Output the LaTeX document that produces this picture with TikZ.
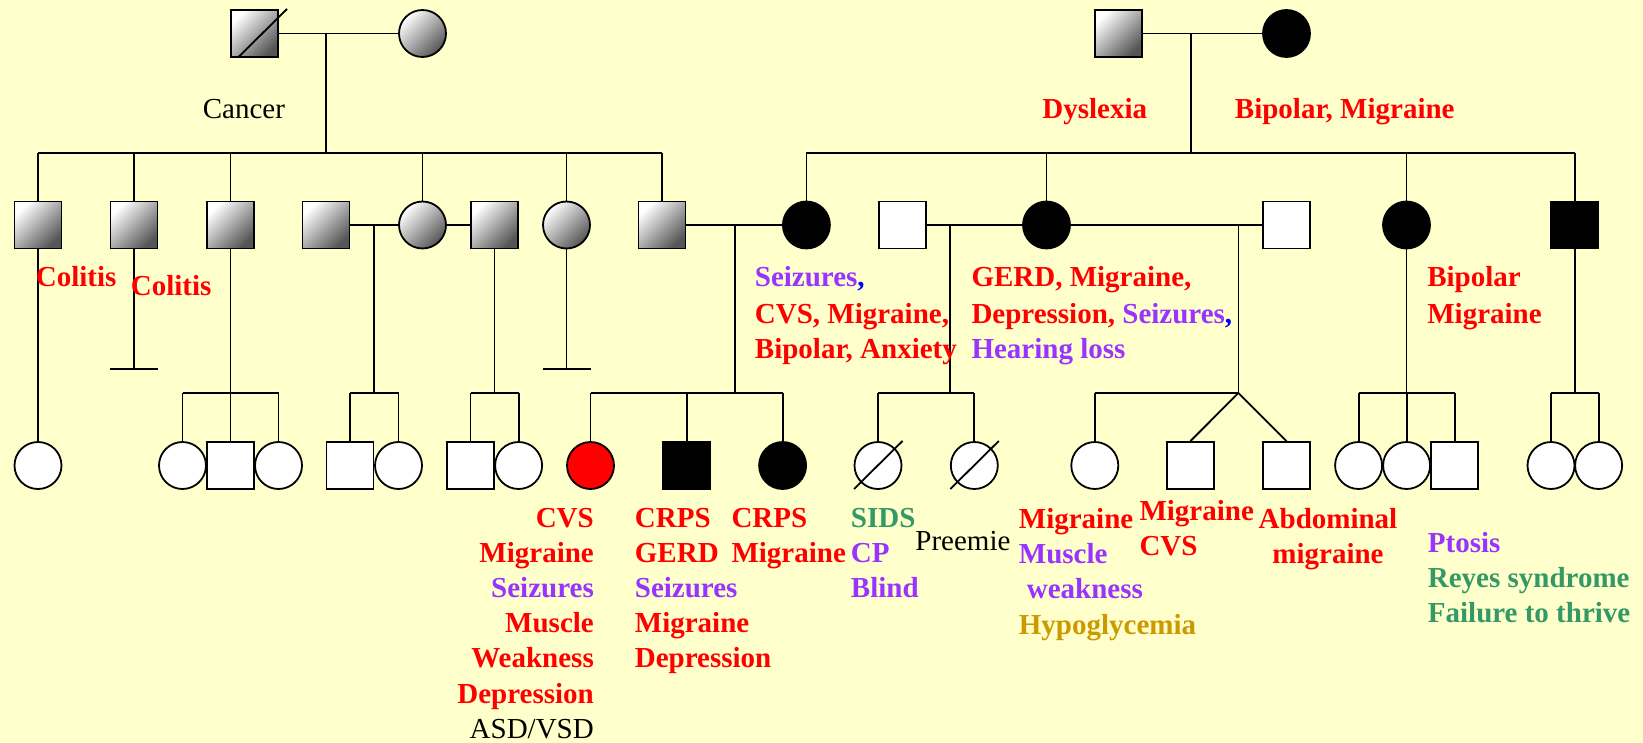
\documentclass[tikz,border=0pt]{standalone}
\usepackage{fontspec}
\setmainfont{Liberation Serif}
\usetikzlibrary{calc}
\definecolor{bg}{HTML}{FFFFCC}
\definecolor{dred}{HTML}{FF0000}
\definecolor{dpur}{HTML}{9933FF}
\definecolor{dblu}{HTML}{0000FF}
\definecolor{dgrn}{HTML}{339966}
\definecolor{dgld}{HTML}{CC9900}
\definecolor{shd}{HTML}{555555}
\begin{document}
\begin{tikzpicture}[x=1pt,y=-1pt,line width=1.8pt,
  person/.style={draw=black,line width=1.8pt,inner sep=0pt,minimum size=47pt},
  male/.style={person,rectangle},
  female/.style={person,circle},
  gshade/.style={top color=white,bottom color=shd,shading angle=45},
  affected/.style={fill=black},
  unaff/.style={fill=white},
  redfill/.style={fill=dred},
  lbl/.style={inner sep=0pt,font=\fontsize{29}{35}\selectfont\bfseries},
  plainlbl/.style={inner sep=0pt,font=\fontsize{29}{35}\selectfont},
]
\fill[bg] (0,0) rectangle (1643,743);
\useasboundingbox (0,0) rectangle (1643,743);

% ---------- generation I ----------
\node[male,gshade] (gf1) at (254.5,33.5) {};
\node[female,gshade] (gm1) at (422.5,33.5) {};
\node[male,gshade] (gf2) at (1118.5,33.5) {};
\node[female,affected] (gm2) at (1286.5,33.5) {};
\draw ($(gf1.center)+(-16.5,24)$) -- ($(gf1.center)+(32.5,-24.5)$);

\draw (gf1.east) -- (gm1.west);
\draw (gf2.east) -- (gm2.west);
\coordinate (m1) at (326.3,33.5);
\coordinate (s1) at (326.3,153);
\coordinate (m2) at (1190.7,33.5);
\coordinate (s2) at (1190.7,153);
\draw (m1) -- (s1);
\draw (m2) -- (s2);

% ---------- generation II ----------
\node[male,gshade] (a1) at (38,225) {};
\node[male,gshade] (a2) at (134,225) {};
\node[male,gshade] (a3) at (230.5,225) {};
\node[male,gshade] (a4s) at (326,225) {};
\node[female,gshade] (a5) at (422.5,225) {};
\node[male,gshade] (a6s) at (494.5,225) {};
\node[female,gshade] (a7) at (566.5,225) {};
\node[male,gshade] (a8) at (662,225) {};
\node[female,affected] (b1) at (806.4,225) {};
\node[male,unaff] (b2s) at (902.6,225) {};
\node[female,affected] (b3) at (1046.5,225) {};
\node[male,unaff] (b4s) at (1286.5,225) {};
\node[female,affected] (b5) at (1406.5,225) {};
\node[male,affected] (b6) at (1574.6,225) {};

% sibship lines gen II
\draw (a1.north |- s1) -- (a8.north |- s1);
\foreach \n in {a1,a2,a3,a5,a7,a8} \draw (\n.north |- s1) -- (\n.north);
\draw (b1.north |- s2) -- (b6.north |- s2);
\foreach \n in {b1,b3,b5,b6} \draw (\n.north |- s2) -- (\n.north);

% marriages gen II
\draw (a4s.east) -- (a5.west);
\draw (a5.east) -- (a6s.west);
\draw (a8.east) -- (b1.west);
\draw (b2s.east) -- (b3.west);
\draw (b3.east) -- (b4s.west);

% ---------- generation III ----------
\node[female,unaff] (c1) at (38,465.5) {};
\node[female,unaff] (c2) at (182.5,465.5) {};
\node[female,unaff] (c4) at (278.5,465.5) {};
\node[male,unaff] (c3) at (230.5,465.5) {};
\node[female,unaff] (c6) at (398.5,465.5) {};
\node[male,unaff] (c5) at (350,465.5) {};
\node[female,unaff] (c8) at (518.6,465.5) {};
\node[male,unaff] (c7) at (470.5,465.5) {};
\node[female,redfill] (c9) at (590.5,465.5) {};
\node[male,affected] (c10) at (686.6,465.5) {};
\node[female,affected] (c11) at (782.6,465.5) {};
\node[female,unaff] (c12) at (878,465.5) {};
\node[female,unaff] (c13) at (974.3,465.5) {};
\node[female,unaff] (c14) at (1094.8,465.5) {};
\node[male,unaff] (c15) at (1190.4,465.5) {};
\node[male,unaff] (c16) at (1286.4,465.5) {};
\node[female,unaff] (c17) at (1358.6,465.5) {};
\node[female,unaff] (c18) at (1406.6,465.5) {};
\node[male,unaff] (c19) at (1454.7,465.5) {};
\node[female,unaff] (c20) at (1551,465.5) {};
\node[female,unaff] (c21) at (1598.6,465.5) {};
\draw ($(c12.center)+(-24,23.5)$) -- ($(c12.center)+(24.5,-24.5)$);
\draw ($(c13.center)+(-24,23.5)$) -- ($(c13.center)+(24.5,-24.5)$);

% junctions
\coordinate (j2) at (374,225);
\coordinate (j4) at (735,225);
\coordinate (j5) at (950,225);
\coordinate (j6) at (1238.4,225);
\coordinate (g1) at (230.5,393);
\coordinate (g2) at (374,393);
\coordinate (g3) at (494.5,393);
\coordinate (g4) at (735,393);
\coordinate (g5) at (950,393);
\coordinate (g6) at (1238.4,393);
\coordinate (g7) at (1406.5,393);
\coordinate (g8) at (1574.6,393);
\coordinate (e2) at (134,369);
\coordinate (e7) at (566.5,369);

% childless lines
\draw (a2.south) -- (e2);
\draw ([xshift=-24pt]e2) -- ([xshift=24pt]e2);
\draw (a7.south) -- (e7);
\draw ([xshift=-24pt]e7) -- ([xshift=24pt]e7);

% a1 -> c1
\draw (a1.south) -- (c1.north);
% group 1
\draw (a3.south) -- (g1);
\draw (c2.north |- g1) -- (c4.north |- g1);
\foreach \n in {c2,c3,c4} \draw (\n.north |- g1) -- (\n.north);
% group 2
\draw (j2) -- (g2);
\draw (c5.north |- g2) -- (c6.north |- g2);
\foreach \n in {c5,c6} \draw (\n.north |- g2) -- (\n.north);
% group 3
\draw (a6s.south) -- (g3);
\draw (c7.north |- g3) -- (c8.north |- g3);
\foreach \n in {c7,c8} \draw (\n.north |- g3) -- (\n.north);
% group 4
\draw (j4) -- (g4);
\draw (c9.north |- g4) -- (c11.north |- g4);
\foreach \n in {c9,c10,c11} \draw (\n.north |- g4) -- (\n.north);
% group 5
\draw (j5) -- (g5);
\draw (c12.north |- g5) -- (c13.north |- g5);
\foreach \n in {c12,c13} \draw (\n.north |- g5) -- (\n.north);
% group 6
\draw (j6) -- (g6);
\draw (c14.north |- g6) -- (g6);
\draw (c14.north |- g6) -- (c14.north);
\draw (g6) -- (c15.north);
\draw (g6) -- (c16.north);
% group 7
\draw (b5.south) -- (g7);
\draw (c17.north |- g7) -- (c19.north |- g7);
\foreach \n in {c17,c18,c19} \draw (\n.north |- g7) -- (\n.north);
% group 8
\draw (b6.south) -- (g8);
\draw (c20.north |- g8) -- (c21.north |- g8);
\foreach \n in {c20,c21} \draw (\n.north |- g8) -- (\n.north);

% ---------- labels ----------
\node[plainlbl,anchor=base west] (tcancer) at (202,119) {Cancer};
\node[lbl,text=dred,anchor=base west] (tdys) at (1041.5,119) {Dyslexia};
\node[lbl,text=dred,anchor=base west] (tbm) at (1234,119) {Bipolar, Migraine};
\node[lbl,text=dred,anchor=base west] (tcol1) at (35,287) {Colitis};
\node[lbl,text=dred,anchor=base west] (tcol2) at (130,295) {Colitis};

\node[lbl,anchor=base west] (tb1a) at (754,287) {\textcolor{dpur}{Seizures}\textcolor{dblu}{,}};
\node[lbl,text=dred,anchor=base west] (tb1b) at (754,323) {CVS, Migraine,};
\node[lbl,text=dred,anchor=base west] (tb1c) at (754,358) {Bipolar, Anxiety};

\node[lbl,text=dred,anchor=base west] (tb3a) at (970.6,287) {GERD, Migraine,};
\node[lbl,anchor=base west] (tb3b) at (970.6,323) {\textcolor{dred}{Depression, }\textcolor{dpur}{Seizures}\textcolor{dblu}{,}};
\node[lbl,text=dpur,anchor=base west] (tb3c) at (970.6,358) {Hearing loss};

\node[lbl,text=dred,anchor=base west] (tb5a) at (1426.4,287) {Bipolar};
\node[lbl,text=dred,anchor=base west] (tb5b) at (1426.4,323) {Migraine};

\node[lbl,text=dred,anchor=base east] (tc9a) at (594.7,527) {CVS};
\node[lbl,text=dred,anchor=base east] (tc9b) at (594.7,562.2) {Migraine};
\node[lbl,text=dpur,anchor=base east] (tc9c) at (594.7,597.4) {Seizures};
\node[lbl,text=dred,anchor=base east] (tc9d) at (594.7,632.6) {Muscle};
\node[lbl,text=dred,anchor=base east] (tc9e) at (594.7,667.8) {Weakness};
\node[lbl,text=dred,anchor=base east] (tc9f) at (594.7,703) {Depression};
\node[plainlbl,anchor=base east] (tc9g) at (594.7,738.2) {ASD/VSD};

\node[lbl,text=dred,anchor=base west] (tc10a) at (634,527) {CRPS};
\node[lbl,text=dred,anchor=base west] (tc10b) at (634,562.2) {GERD};
\node[lbl,text=dpur,anchor=base west] (tc10c) at (634,597.4) {Seizures};
\node[lbl,text=dred,anchor=base west] (tc10d) at (634,632.6) {Migraine};
\node[lbl,text=dred,anchor=base west] (tc10e) at (634,667.8) {Depression};

\node[lbl,text=dred,anchor=base west] (tc11a) at (730.6,527) {CRPS};
\node[lbl,text=dred,anchor=base west] (tc11b) at (730.6,562.2) {Migraine};

\node[lbl,text=dgrn,anchor=base west] (tc12a) at (850,527) {SIDS};
\node[lbl,text=dpur,anchor=base west] (tc12b) at (850,562.2) {CP};
\node[lbl,text=dpur,anchor=base west] (tc12c) at (850,597.4) {Blind};
\node[plainlbl,anchor=base west] (tc13) at (914.5,550) {Preemie};

\node[lbl,text=dred,anchor=base west] (tc14a) at (1018,528) {Migraine};
\node[lbl,text=dpur,anchor=base west] (tc14b) at (1018,563) {Muscle};
\node[lbl,text=dpur,anchor=base west] (tc14c) at (1026,598) {weakness};
\node[lbl,text=dgld,anchor=base west] (tc14d) at (1018,634) {Hypoglycemia};

\node[lbl,text=dred,anchor=base west] (tc15a) at (1138.6,520) {Migraine};
\node[lbl,text=dred,anchor=base west] (tc15b) at (1138.6,555) {CVS};

\node[lbl,text=dred,anchor=base] (tc16a) at (1328,528) {Abdominal};
\node[lbl,text=dred,anchor=base] (tc16b) at (1328,563) {migraine};

\node[lbl,text=dpur,anchor=base west] (tc19a) at (1427,552) {Ptosis};
\node[lbl,text=dgrn,anchor=base west] (tc19b) at (1427,587) {Reyes syndrome};
\node[lbl,text=dgrn,anchor=base west] (tc19c) at (1427,622) {Failure to thrive};
\end{tikzpicture}
\end{document}
